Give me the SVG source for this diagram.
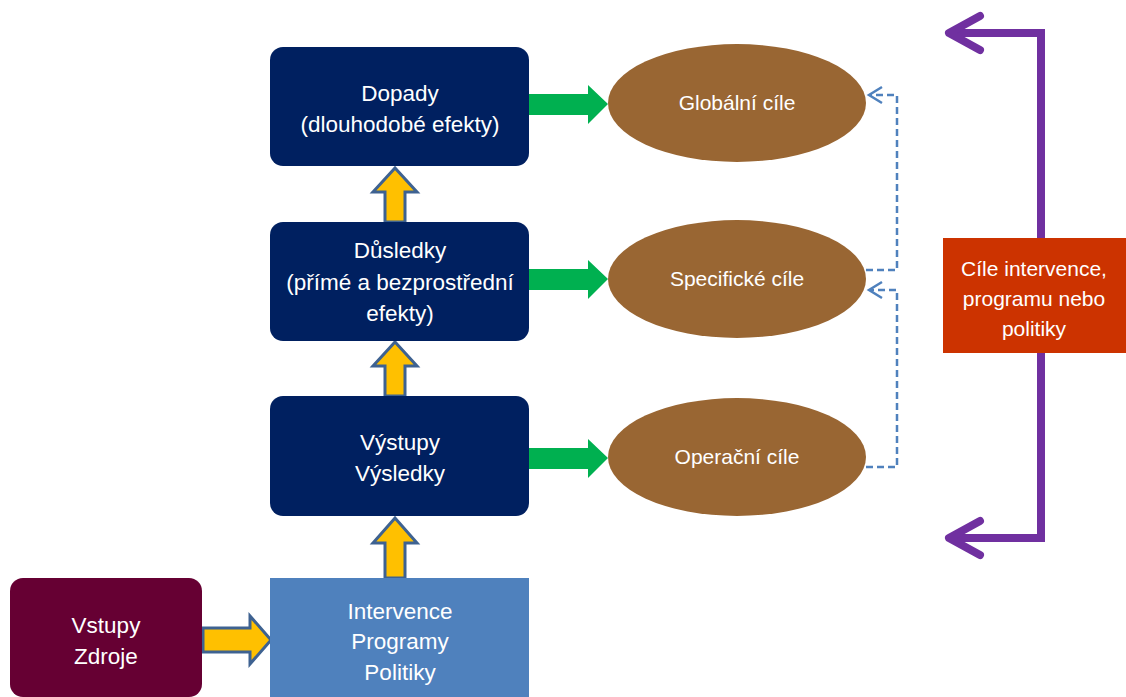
<svg xmlns="http://www.w3.org/2000/svg" width="1126" height="697" viewBox="0 0 1126 697">
<style>
.t{font-family:"Liberation Sans",Arial,sans-serif;font-size:22.5px;fill:#fff;text-anchor:middle}
.s{font-size:21px}
.box{fill:#002060}
.ell{fill:#996633}
.ya{fill:#FFC000;stroke:#3E6291;stroke-width:3;stroke-linejoin:miter}
.ga{fill:#00B050}
.dash{fill:none;stroke:#4F81BD;stroke-width:2.5;stroke-dasharray:7,4}
.pur{fill:none;stroke:#7030A0;stroke-width:8}
</style>
<rect width="1126" height="697" fill="#fff"/>
<g id="connectors">
<path class="ya" d="M385,222 V192 H373 L395,168 L417,192 H405 V222 Z"/>
<path class="ya" d="M385,396 V366 H373 L395,342 L417,366 H405 V396 Z"/>
<path class="ya" d="M385,578 V543 H373 L395,518 L417,543 H405 V578 Z"/>
<path class="ya" d="M203,628 H250 V616 L271,640 L250,664 V652 H203 Z"/>
<path class="ga" d="M529,94 H588 V85 L608,104 L588,124 V115 H529 Z"/>
<path class="ga" d="M529,269 H588 V260 L608,279 L588,299 V290 H529 Z"/>
<path class="ga" d="M529,448 H588 V439 L608,458 L588,478 V469 H529 Z"/>
<path class="dash" d="M866,270 H897 V95 H870"/>
<path d="M882,87 L869,95 L882,103" fill="none" stroke="#4F81BD" stroke-width="2.5"/>
<path class="dash" d="M866,467 H897 V290 H870"/>
<path d="M882,282 L869,290 L882,298" fill="none" stroke="#4F81BD" stroke-width="2.5"/>
<path class="pur" d="M1041,238 V33 H950"/>
<path class="pur" d="M1041,353 V538 H950"/>
<path d="M980,16 L949,33 L980,50" fill="none" stroke="#7030A0" stroke-width="8" stroke-linecap="round" stroke-linejoin="round"/>
<path d="M980,521 L949,538 L980,555" fill="none" stroke="#7030A0" stroke-width="8" stroke-linecap="round" stroke-linejoin="round"/>
</g>
<g id="dopady"><rect class="box" x="270" y="47" width="259" height="119" rx="13"/><text class="t" x="400" y="101">Dopady</text><text class="t" x="400" y="132">(dlouhodobé efekty)</text></g>
<g id="dusledky"><rect class="box" x="270" y="222" width="259" height="119" rx="13"/><text class="t" x="400" y="258">Důsledky</text><text class="t" x="400" y="290">(přímé a bezprostřední</text><text class="t" x="400" y="321">efekty)</text></g>
<g id="vystupy"><rect class="box" x="270" y="396" width="259" height="120" rx="13"/><text class="t" x="400" y="450">Výstupy</text><text class="t" x="400" y="481">Výsledky</text></g>
<g id="intervence"><rect x="270" y="578" width="259" height="119" fill="#4F81BD"/><text class="t" x="400" y="619">Intervence</text><text class="t" x="400" y="649">Programy</text><text class="t" x="400" y="680">Politiky</text></g>
<g id="vstupy"><rect x="10" y="578" width="192" height="119" rx="13" fill="#660033"/><text class="t" x="106" y="633">Vstupy</text><text class="t" x="106" y="664">Zdroje</text></g>
<g id="globalni"><ellipse class="ell" cx="737" cy="103" rx="129" ry="59"/><text class="t s" x="737" y="110">Globální cíle</text></g>
<g id="specificke"><ellipse class="ell" cx="737" cy="279" rx="129" ry="59"/><text class="t s" x="737" y="286">Specifické cíle</text></g>
<g id="operacni"><ellipse class="ell" cx="737" cy="457" rx="129" ry="59"/><text class="t s" x="737" y="464">Operační cíle</text></g>
<g id="cile"><rect x="943" y="238" width="183" height="115" fill="#CC3300"/><text class="t s" x="1034" y="276">Cíle intervence,</text><text class="t s" x="1034" y="306">programu nebo</text><text class="t s" x="1034" y="336">politiky</text></g>
</svg>
